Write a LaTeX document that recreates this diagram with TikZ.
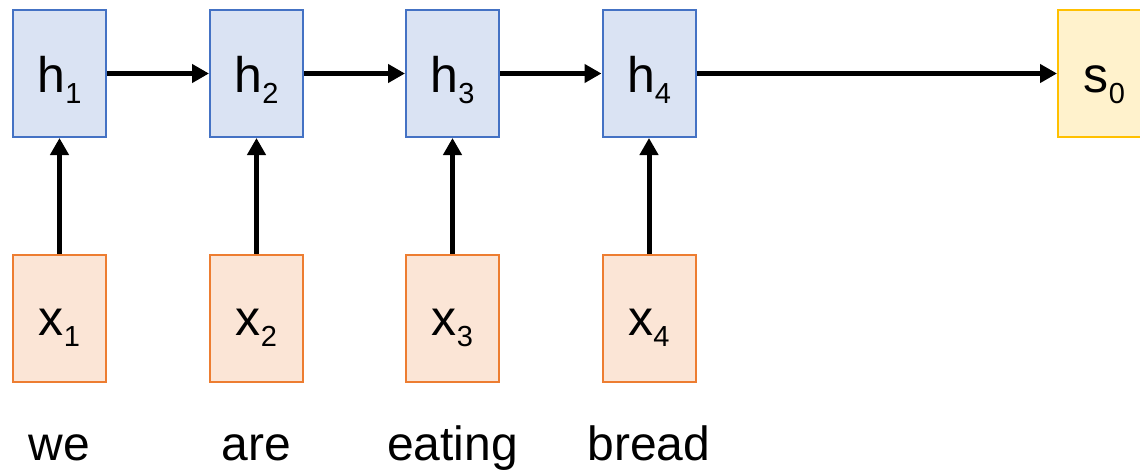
\documentclass[tikz,border=0pt]{standalone}
\usepackage{fontspec}
\setmainfont{Liberation Sans}
\usepackage{tikz}
\usetikzlibrary{arrows.meta}

\definecolor{hfill}{HTML}{DAE3F3}
\definecolor{hline}{HTML}{4472C4}
\definecolor{xfill}{HTML}{FBE5D6}
\definecolor{xline}{HTML}{ED7D31}
\definecolor{sfill}{HTML}{FFF2CC}
\definecolor{sline}{HTML}{FFC000}

\newcommand{\subidx}[1]{\raisebox{-11pt}{\fontsize{29}{29}\selectfont #1}}

\tikzset{
    cell/.style = {rectangle, draw, line width=2pt, inner sep=0pt,
        minimum width=93pt, minimum height=127pt, text depth=0pt,
        font=\fontsize{50}{60}\selectfont},
    hcell/.style = {cell, fill=hfill, draw=hline, text height=37pt},
    xcell/.style = {cell, fill=xfill, draw=xline, text height=34pt},
    scell/.style = {cell, fill=sfill, draw=sline, text height=37pt},
    word/.style = {anchor=base, inner sep=0pt, font=\fontsize{48}{58}\selectfont},
}

\begin{document}
\begin{tikzpicture}[x=1pt, y=1pt, >={Triangle[length=17pt, width=18pt]}]
        \useasboundingbox (0,0) rectangle (1140,-471);
        \begin{scope}
            \clip (0,0) rectangle (1140,-471);
            \node [hcell] (h1) at (59.5,-73.5) {h\subidx{1}};
            \node [hcell] (h2) at (256.5,-73.5) {h\subidx{2}};
            \node [hcell] (h3) at (452.5,-73.5) {h\subidx{3}};
            \node [hcell] (h4) at (649,-73.5) {h\subidx{4}};
            \node [scell] (s0) at (1104.5,-73.5) {s\subidx{0}};
            \node [xcell] (x1) at (59.5,-318) {x\subidx{1}};
            \node [xcell] (x2) at (256.5,-318) {x\subidx{2}};
            \node [xcell] (x3) at (452.5,-318) {x\subidx{3}};
            \node [xcell] (x4) at (649,-318) {x\subidx{4}};
            \node [word] (w1) at (59.5,-460) {we};
            \node [word] (w2) at (256.5,-460) {are};
            \node [word] (w3) at (452.5,-460) {eating};
            \node [word] (w4) at (649,-460) {bread};
            \draw [->, line width=5pt] (h1) -- (h2);
            \draw [->, line width=5pt] (h2) -- (h3);
            \draw [->, line width=5pt] (h3) -- (h4);
            \draw [->, line width=5pt] (h4) -- (s0);
            \draw [->, line width=5pt] (x1) -- (h1);
            \draw [->, line width=5pt] (x2) -- (h2);
            \draw [->, line width=5pt] (x3) -- (h3);
            \draw [->, line width=5pt] (x4) -- (h4);
        \end{scope}
        
    \end{tikzpicture}
\end{document}
